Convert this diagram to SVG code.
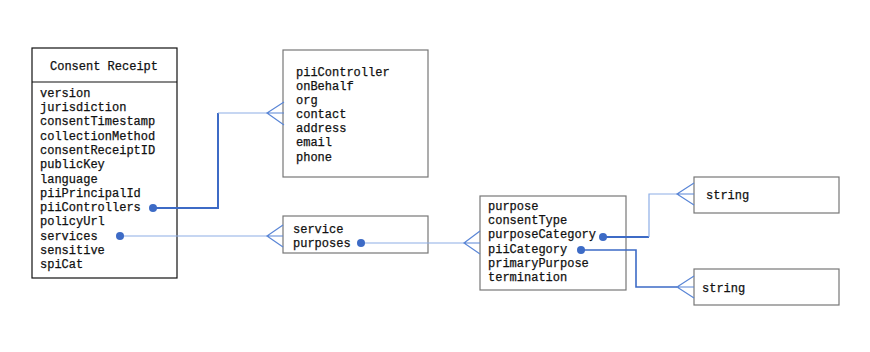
<svg xmlns="http://www.w3.org/2000/svg" width="870" height="352" viewBox="0 0 870 352">
<style>
text{font-family:"Liberation Mono","DejaVu Sans Mono",monospace;font-size:12px;fill:#111;stroke:#111;stroke-width:0.25}
.box{fill:#fff;stroke:#777;stroke-width:1.2}
.main{fill:#fff;stroke:#111;stroke-width:1.2}
.dk{fill:none;stroke:#3d6bc6;stroke-width:2}
.lt{fill:none;stroke:#8eaee6;stroke-width:1.2}
.cf{fill:none;stroke:#5a86d6;stroke-width:1.2}
.dot{fill:#3d6bc6}
</style>
<rect width="870" height="352" fill="#fff"/>
<g id="consent-receipt">
<rect class="main" x="32" y="48" width="145" height="230"/>
<line x1="32" y1="82" x2="177" y2="82" stroke="#111" stroke-width="1.2"/>
<text x="104" y="70" text-anchor="middle">Consent Receipt</text>
<text x="40" y="97">version</text>
<text x="40" y="111">jurisdiction</text>
<text x="40" y="125">consentTimestamp</text>
<text x="40" y="140">collectionMethod</text>
<text x="40" y="154">consentReceiptID</text>
<text x="40" y="168">publicKey</text>
<text x="40" y="183">language</text>
<text x="40" y="197">piiPrincipalId</text>
<text x="40" y="211">piiControllers</text>
<text x="40" y="225">policyUrl</text>
<text x="40" y="240">services</text>
<text x="40" y="254">sensitive</text>
<text x="40" y="268">spiCat</text>
</g>
<g id="pii-controller">
<rect class="box" x="283" y="50" width="145" height="127"/>
<text x="296" y="76">piiController</text>
<text x="296" y="90">onBehalf</text>
<text x="296" y="104">org</text>
<text x="296" y="118">contact</text>
<text x="296" y="132">address</text>
<text x="296" y="146">email</text>
<text x="296" y="161">phone</text>
</g>
<g id="service">
<rect class="box" x="283" y="216" width="145" height="37"/>
<text x="293" y="233">service</text>
<text x="293" y="247">purposes</text>
</g>
<g id="purpose">
<rect class="box" x="480" y="196" width="146" height="94"/>
<text x="488" y="210">purpose</text>
<text x="488" y="224">consentType</text>
<text x="488" y="238">purposeCategory</text>
<text x="488" y="253">piiCategory</text>
<text x="488" y="267">primaryPurpose</text>
<text x="488" y="281">termination</text>
</g>
<g id="string-1">
<rect class="box" x="694" y="177" width="145" height="36"/>
<text x="706" y="199">string</text>
</g>
<g id="string-2">
<rect class="box" x="694" y="269" width="145" height="36"/>
<text x="702" y="292">string</text>
</g>
<g id="connectors">
<polyline class="dk" points="153,208 218,208 218,113"/>
<line class="lt" x1="218" y1="113" x2="267" y2="113"/>
<path class="cf" d="M284,102 L267,113 L284,125 M267,113 L284,113"/>
<circle class="dot" cx="153" cy="208" r="4"/>
<line class="lt" x1="120" y1="236" x2="267" y2="236"/>
<path class="cf" d="M283,225 L267,236 L283,247 M267,236 L283,236"/>
<circle class="dot" cx="120" cy="236" r="4"/>
<line class="lt" x1="361" y1="243" x2="464" y2="243"/>
<path class="cf" d="M480,231 L464,243 L480,254 M464,243 L480,243"/>
<circle class="dot" cx="361" cy="243" r="4"/>
<line class="dk" x1="603" y1="237" x2="649" y2="237"/>
<polyline class="lt" points="649,237 649,194 677,194"/>
<path class="cf" d="M694,183 L677,194 L694,205 M677,194 L694,194"/>
<circle class="dot" cx="603" cy="237" r="4"/>
<polyline class="dk" style="stroke-width:1.6" points="581,250 636,250 636,287 677,287"/>
<path class="cf" d="M694,276 L677,287 L694,298 M677,287 L694,287"/>
<circle class="dot" cx="581" cy="250" r="4"/>
</g>
</svg>
